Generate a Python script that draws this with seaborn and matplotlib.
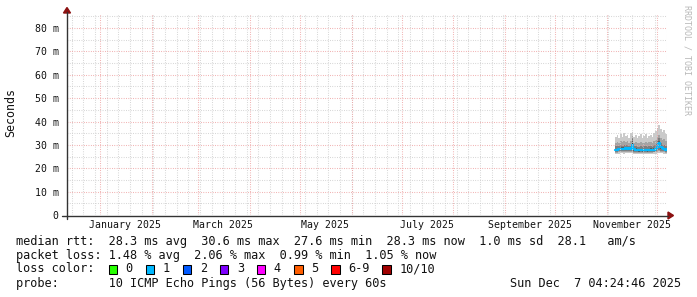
import numpy as np
import pandas as pd
import matplotlib
matplotlib.use("Agg")
import matplotlib.pyplot as plt
import seaborn as sns
from matplotlib.patches import Polygon, Rectangle
from matplotlib.lines import Line2D

# ---------------- data ----------------
days = pd.date_range("2025-11-06", "2025-12-07", freq="D")

median = [27.7, 27.9, 28.2, 28.3, 28.4, 28.3, 28.5, 28.4, 28.6, 28.3, 29.9, 28.1, 27.9, 27.8, 27.6, 27.7,
          27.6, 27.8, 27.7, 27.6, 27.8, 27.9, 27.7, 28.0, 28.2, 29.3, 30.6, 29.1, 28.5, 28.2, 28.0, 28.3]

p10 = [33.2, 34.1, 33.0, 34.6, 33.4, 35.0, 33.8, 34.4, 33.1, 34.9, 35.6, 33.5, 34.2, 32.8, 33.6, 34.5,
       32.9, 33.7, 34.8, 33.0, 33.9, 34.3, 33.2, 35.2, 36.1, 37.4, 38.3, 36.8, 35.4, 36.2, 34.6, 33.8]
p9 = [30.8, 31.3, 31.0, 31.6, 31.1, 31.8, 31.2, 31.5, 31.0, 31.7, 33.6, 31.0, 31.2, 30.6, 30.9, 31.3,
      30.7, 31.0, 31.4, 30.8, 31.1, 31.2, 30.9, 31.6, 32.2, 33.4, 34.2, 33.0, 32.1, 32.4, 31.5, 31.2]
p8 = [29.4, 29.7, 29.6, 29.9, 29.7, 30.0, 29.8, 29.9, 29.7, 29.9, 33.0, 29.5, 29.6, 29.2, 29.3, 29.5,
      29.2, 29.4, 29.5, 29.2, 29.4, 29.5, 29.3, 29.8, 30.2, 31.6, 32.8, 31.0, 30.1, 30.0, 29.6, 29.7]
p7 = [28.4, 28.6, 28.8, 29.0, 29.0, 28.9, 29.1, 29.0, 29.2, 28.9, 32.6, 28.7, 28.5, 28.3, 28.2, 28.3,
      28.2, 28.4, 28.3, 28.2, 28.4, 28.5, 28.3, 28.6, 28.9, 30.5, 31.8, 30.0, 29.1, 28.8, 28.6, 28.9]
p6 = [27.9, 28.1, 28.4, 28.5, 28.6, 28.5, 28.7, 28.6, 28.8, 28.5, 31.4, 28.3, 28.1, 28.0, 27.8, 27.9,
      27.8, 28.0, 27.9, 27.8, 28.0, 28.1, 27.9, 28.2, 28.4, 29.9, 31.0, 29.5, 28.7, 28.4, 28.2, 28.5]
p5 = [27.5, 27.7, 28.0, 28.1, 28.2, 28.1, 28.3, 28.2, 28.4, 28.1, 28.4, 27.9, 27.7, 27.6, 27.4, 27.5,
      27.4, 27.6, 27.5, 27.4, 27.6, 27.7, 27.5, 27.8, 28.0, 28.7, 30.2, 28.7, 28.3, 28.0, 27.8, 28.1]
p4 = [27.2, 27.4, 27.6, 27.7, 27.8, 27.7, 27.9, 27.8, 28.0, 27.7, 28.1, 27.5, 27.3, 27.2, 27.1, 27.2,
      27.1, 27.3, 27.2, 27.1, 27.3, 27.4, 27.2, 27.5, 27.6, 28.2, 29.1, 28.1, 27.8, 27.6, 27.5, 27.7]
p3 = [26.9, 27.0, 27.2, 27.3, 27.3, 27.3, 27.4, 27.3, 27.5, 27.3, 27.6, 27.1, 27.0, 26.9, 26.8, 26.9,
      26.8, 27.0, 26.9, 26.8, 27.0, 27.0, 26.9, 27.1, 27.2, 27.6, 28.0, 27.5, 27.3, 27.2, 27.1, 27.2]
p2 = [26.6, 26.7, 26.8, 26.9, 26.9, 26.9, 27.0, 26.9, 27.0, 26.9, 27.1, 26.7, 26.6, 26.6, 26.5, 26.6,
      26.5, 26.7, 26.6, 26.5, 26.6, 26.7, 26.6, 26.8, 26.8, 27.1, 27.3, 27.0, 26.9, 26.8, 26.7, 26.8]
p1 = [26.1, 26.2, 26.3, 26.4, 26.4, 26.3, 26.5, 26.4, 26.5, 26.4, 26.6, 26.2, 26.1, 26.1, 26.0, 26.1,
      26.0, 26.2, 26.1, 26.0, 26.1, 26.2, 26.1, 26.3, 26.3, 26.5, 26.7, 26.4, 26.4, 26.3, 26.2, 26.3]

x_start = pd.Timestamp("2024-12-12 04:24:46")
x_end = pd.Timestamp("2025-12-07 04:24:46")
y_top = 86
y_ticks = [0, 10, 20, 30, 40, 50, 60, 70, 80]
y_tick_labels = ["0", "10 m", "20 m", "30 m", "40 m", "50 m", "60 m", "70 m", "80 m"]
month_label_dates = ["2025-01-16", "2025-03-16", "2025-05-16", "2025-07-16", "2025-09-16", "2025-11-16"]
month_labels = ["January 2025", "March 2025", "May 2025", "July 2025", "September 2025", "November 2025"]

legend_rtt = "median rtt:  28.3 ms avg  30.6 ms max  27.6 ms min  28.3 ms now  1.0 ms sd  28.1   am/s"
legend_loss = "packet loss: 1.48 % avg  2.06 % max  0.99 % min  1.05 % now"
legend_probe = "probe:       10 ICMP Echo Pings (56 Bytes) every 60s"
legend_date = "Sun Dec  7 04:24:46 2025"
loss_labels = ["0", "1", "2", "3", "4", "5", "6-9", "10/10"]
loss_colors = ["#26ff00", "#00b8ff", "#0059ff", "#7e00ff", "#ff00ff", "#ff5e00", "#ff0000", "#a00000"]
median_color = "#00b8ff"

# ---------------- figure ----------------
W, H = 697, 297
sns.set_style("white")
plt.rcParams["font.family"] = ["DejaVu Sans Mono"]

fig = plt.figure(figsize=(W / 100, H / 100), dpi=100)
fig.patch.set_facecolor("white")
def fx(px): return px / W
def fy(py): return 1 - py / H

L, R, T, B = 67, 667, 14, 215
ax = fig.add_axes([fx(L), fy(B), (R - L) / W, (B - T) / H])
ax.set_facecolor("white")
for s in ax.spines.values():
    s.set_visible(False)

ax.set_xlim(x_start, x_end)
ax.set_ylim(0, y_top)

# grid
minor_col = "#cdcdcd"
major_col = "#eea0a0"
dash = dict(linestyle=(0, (0.75, 1.5)), linewidth=0.75, zorder=5)
for v in np.arange(5, y_top, 10):
    ax.axhline(v, color=minor_col, **dash)
for v in pd.date_range("2024-12-15", x_end, freq="7D"):
    ax.axvline(v, color=minor_col, **dash)
for v in y_ticks[1:]:
    ax.axhline(v, color=major_col, **dash)
for v in pd.date_range("2025-01-01", x_end, freq="MS"):
    ax.axvline(v, color=major_col, **dash)

# smoke bands (outer to inner)
pairs = [(p1, p10, "#cacaca"), (p2, p9, "#a4a4a4"), (p3, p8, "#7e7e7e"), (p4, p7, "#585858"), (p5, p6, "#323232")]
for lo, hi, c in pairs:
    ax.fill_between(days, lo, hi, step="post", color=c, linewidth=0, zorder=3)

df = pd.DataFrame({"date": days, "median": median})
sns.lineplot(data=df, x="date", y="median", ax=ax, color=median_color, linewidth=1.6,
             drawstyle="steps-post", zorder=4)
ax.set_xlabel("")
ax.set_ylabel("")

ax.set_yticks(y_ticks)
ax.set_yticklabels(y_tick_labels)
ax.set_xticks(pd.to_datetime(month_label_dates))
ax.set_xticklabels(month_labels)
ax.tick_params(axis="both", length=0, labelsize=7.1, colors="#111111")
ax.tick_params(axis="y", pad=6)
ax.tick_params(axis="x", pad=3.5)

# axes lines and arrows
axis_col = "#333333"
arrow_col = "#8b1010"
fig.add_artist(Line2D([fx(62), fx(668)], [fy(B + 0.5), fy(B + 0.5)], color=axis_col, linewidth=1.0))
fig.add_artist(Line2D([fx(L - 0.5), fx(L - 0.5)], [fy(219), fy(12)], color=axis_col, linewidth=1.0))
fig.add_artist(Polygon([[fx(668), fy(212)], [fx(668), fy(219)], [fx(673.5), fy(215.5)]],
                       closed=True, color=arrow_col, transform=fig.transFigure))
fig.add_artist(Polygon([[fx(63.5), fy(13)], [fx(70.5), fy(13)], [fx(67), fy(7.5)]],
                       closed=True, color=arrow_col, transform=fig.transFigure))

# y label
fig.text(fx(11), fy(113), "Seconds", rotation=90, ha="center", va="center", fontsize=8.4, color="#111111")

# watermark
fig.text(fx(687), fy(5), "RRDTOOL / TOBI OETIKER", rotation=270, ha="center", va="top",
         fontsize=6, color="#b8b8b8")

# legend
fs = 8.55
fig.text(fx(16), fy(241), legend_rtt, ha="left", va="center", fontsize=fs, color="#111111")
fig.text(fx(16), fy(255), legend_loss, ha="left", va="center", fontsize=fs, color="#111111")
fig.text(fx(16), fy(269), "loss color:", ha="left", va="center", fontsize=fs, color="#111111")
fig.text(fx(16), fy(283.5), legend_probe, ha="left", va="center", fontsize=fs, color="#111111")
fig.text(fx(681), fy(283.5), legend_date, ha="right", va="center", fontsize=fs, color="#111111")

bx = 108.5
for lab, col in zip(loss_labels, loss_colors):
    fig.add_artist(Rectangle((fx(bx), fy(273.5)), 8.5 / W, 9 / H, transform=fig.transFigure,
                             facecolor=col, edgecolor="black", linewidth=0.75))
    fig.text(fx(bx + 17), fy(269), lab, ha="left", va="center", fontsize=fs, color="#111111")
    bx += 17 + 7.1 * len(lab) + 13

fig.savefig("out.png", dpi=100, facecolor="white")
